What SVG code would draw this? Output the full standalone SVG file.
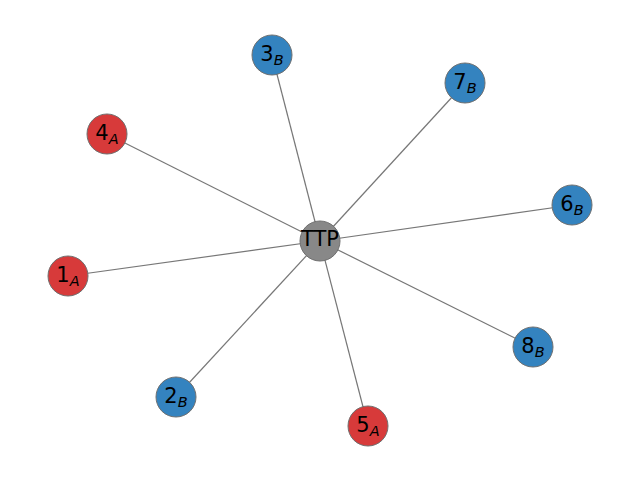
<svg xmlns="http://www.w3.org/2000/svg" width="640" height="480" viewBox="0 0 640 480">
<style>
.e{stroke:#777;stroke-width:1.2}
.n circle{stroke:#707070;stroke-width:1}
.a circle{fill:#d73a3a}
.b circle{fill:#3483bf}
.t circle{fill:#888}
text{font-family:"DejaVu Sans",sans-serif;font-size:21px;text-anchor:middle;fill:#000}
.s{font-size:14.5px;font-style:italic}
</style>
<rect width="640" height="480" fill="#fff"/>
<g id="edges">
<line class="e" x1="320" y1="241" x2="272" y2="55"/>
<line class="e" x1="320" y1="241" x2="465" y2="83"/>
<line class="e" x1="320" y1="241" x2="107" y2="134"/>
<line class="e" x1="320" y1="241" x2="572" y2="205"/>
<line class="e" x1="320" y1="241" x2="68" y2="276"/>
<line class="e" x1="320" y1="241" x2="533" y2="347"/>
<line class="e" x1="320" y1="241" x2="176" y2="397"/>
<line class="e" x1="320" y1="241" x2="368" y2="426"/>
</g>
<g id="TTP" class="n t"><circle cx="320" cy="241" r="20"/><text x="320" y="246">TTP</text></g>
<g id="n3B" class="n b"><circle cx="272" cy="55" r="20"/><text x="272" y="61">3<tspan class="s" dy="4">B</tspan></text></g>
<g id="n7B" class="n b"><circle cx="465" cy="83" r="20"/><text x="465" y="89">7<tspan class="s" dy="4">B</tspan></text></g>
<g id="n4A" class="n a"><circle cx="107" cy="134" r="20"/><text x="107" y="140">4<tspan class="s" dy="4">A</tspan></text></g>
<g id="n6B" class="n b"><circle cx="572" cy="205" r="20"/><text x="572" y="211">6<tspan class="s" dy="4">B</tspan></text></g>
<g id="n1A" class="n a"><circle cx="68" cy="276" r="20"/><text x="68" y="282">1<tspan class="s" dy="4">A</tspan></text></g>
<g id="n8B" class="n b"><circle cx="533" cy="347" r="20"/><text x="533" y="353">8<tspan class="s" dy="4">B</tspan></text></g>
<g id="n2B" class="n b"><circle cx="176" cy="397" r="20"/><text x="176" y="403">2<tspan class="s" dy="4">B</tspan></text></g>
<g id="n5A" class="n a"><circle cx="368" cy="426" r="20"/><text x="368" y="432">5<tspan class="s" dy="4">A</tspan></text></g>
</svg>
